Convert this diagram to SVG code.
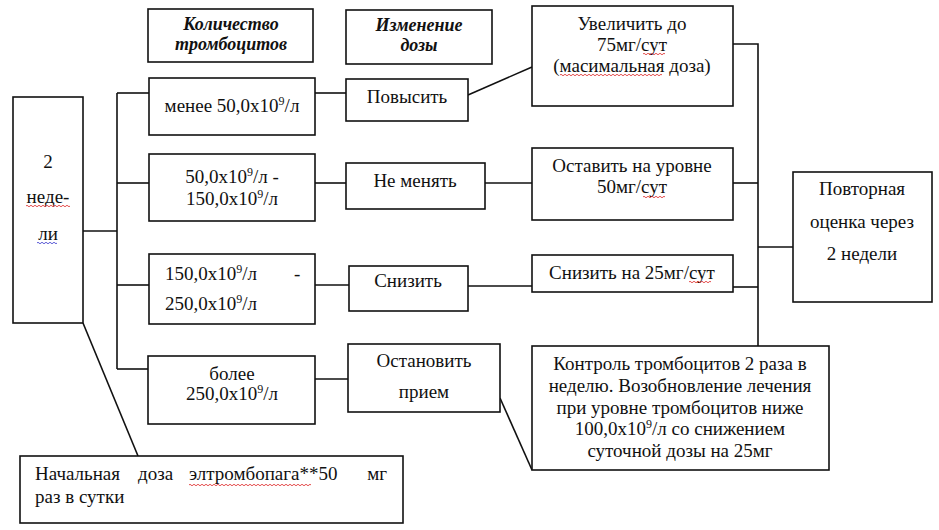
<svg xmlns="http://www.w3.org/2000/svg" width="939" height="530" viewBox="0 0 939 530">
<g id="connectors" stroke="#111" stroke-width="1.6" fill="none">
<line x1="117" y1="93" x2="117" y2="369"/>
<line x1="117" y1="93" x2="149" y2="93"/>
<line x1="83" y1="231" x2="117" y2="231"/>
<line x1="117" y1="183" x2="149" y2="183"/>
<line x1="117" y1="285" x2="149" y2="285"/>
<line x1="117" y1="369" x2="148" y2="369"/>
<line x1="315" y1="93" x2="346" y2="93"/>
<line x1="315" y1="183" x2="346" y2="183"/>
<line x1="315" y1="285" x2="349" y2="285"/>
<line x1="315" y1="379" x2="348" y2="379"/>
<line x1="468" y1="95" x2="532" y2="67"/>
<line x1="485" y1="183" x2="532" y2="183"/>
<line x1="468" y1="286" x2="532" y2="286"/>
<line x1="500" y1="398" x2="532" y2="470"/>
<polyline points="733,44 758,44 758,346"/>
<line x1="733" y1="183" x2="758" y2="183"/>
<line x1="733" y1="287" x2="758" y2="287"/>
<line x1="758" y1="247" x2="793" y2="247"/>
<line x1="83" y1="323" x2="138" y2="456"/>
</g>
<g id="hdr-count"><rect fill="#fff" stroke="#111" stroke-width="1.6" x="148" y="9" width="165" height="53"/><text font-family="Liberation Serif" font-size="18" font-style="italic" font-weight="bold" text-anchor="middle" fill="#111" x="231" y="30">Количество</text><text font-family="Liberation Serif" font-size="18" font-style="italic" font-weight="bold" text-anchor="middle" fill="#111" x="231" y="50">тромбоцитов</text></g>
<g id="hdr-dose"><rect fill="#fff" stroke="#111" stroke-width="1.6" x="346" y="10" width="146" height="54"/><text font-family="Liberation Serif" font-size="18" font-style="italic" font-weight="bold" text-anchor="middle" fill="#111" x="419" y="31">Изменение</text><text font-family="Liberation Serif" font-size="18" font-style="italic" font-weight="bold" text-anchor="middle" fill="#111" x="419" y="51">дозы</text></g>
<g id="left"><rect fill="#fff" stroke="#111" stroke-width="1.6" x="13" y="97" width="70" height="226"/><text font-family="Liberation Serif" font-size="19" text-anchor="middle" fill="#111" x="48" y="168">2</text><text font-family="Liberation Serif" font-size="19" text-anchor="middle" fill="#111" x="48" y="203">неде-</text><text font-family="Liberation Serif" font-size="19" text-anchor="middle" fill="#111" x="48" y="240">ли</text>
<path fill="none" stroke="#d22" stroke-width="0.8" d="M26 206q1 -1.5 2 0t2 0t2 0t2 0t2 0t2 0t2 0t2 0t2 0t2 0t2 0t2 0t2 0t2 0t2 0t2 0t2 0t2 0t2 0t2 0t2 0t2 0"/>
<path fill="none" stroke="#33c" stroke-width="0.8" d="M37 243q1 -1.5 2 0t2 0t2 0t2 0t2 0t2 0t2 0t2 0t2 0t2 0"/></g>
<g id="r1a"><rect fill="#fff" stroke="#111" stroke-width="1.6" x="149" y="78" width="166" height="57"/><text font-family="Liberation Serif" font-size="19" text-anchor="middle" fill="#111" x="232" y="112">менее 50,0x10<tspan font-size="12" dy="-7">9</tspan><tspan dy="7">/л</tspan></text></g>
<g id="r1b"><rect fill="#fff" stroke="#111" stroke-width="1.6" x="346" y="79" width="122" height="42"/><text font-family="Liberation Serif" font-size="19" text-anchor="middle" fill="#111" x="407" y="103">Повысить</text></g>
<g id="r1c"><rect fill="#fff" stroke="#111" stroke-width="1.6" x="532" y="6" width="201" height="100"/><text font-family="Liberation Serif" font-size="19" text-anchor="middle" fill="#111" x="632" y="30">Увеличить до</text><text font-family="Liberation Serif" font-size="19" text-anchor="middle" fill="#111" x="632" y="51">75мг/сут</text><text font-family="Liberation Serif" font-size="19" text-anchor="middle" fill="#111" x="632" y="72">(масимальная доза)</text>
<path fill="none" stroke="#d22" stroke-width="0.8" d="M643 54q1 -1.5 2 0t2 0t2 0t2 0t2 0t2 0t2 0t2 0t2 0t2 0t2 0"/>
<path fill="none" stroke="#d22" stroke-width="0.8" d="M560 75q1 -1.5 2 0t2 0t2 0t2 0t2 0t2 0t2 0t2 0t2 0t2 0t2 0t2 0t2 0t2 0t2 0t2 0t2 0t2 0t2 0t2 0t2 0t2 0t2 0t2 0t2 0t2 0t2 0t2 0t2 0t2 0t2 0t2 0t2 0t2 0t2 0t2 0t2 0t2 0t2 0t2 0t2 0t2 0t2 0t2 0t2 0t2 0t2 0t2 0t2 0t2 0t2 0"/></g>
<g id="r2a"><rect fill="#fff" stroke="#111" stroke-width="1.6" x="149" y="154" width="166" height="67"/><text font-family="Liberation Serif" font-size="19" text-anchor="middle" fill="#111" x="232" y="183">50,0x10<tspan font-size="12" dy="-7">9</tspan><tspan dy="7">/л -</tspan></text><text font-family="Liberation Serif" font-size="19" text-anchor="middle" fill="#111" x="232" y="205">150,0x10<tspan font-size="12" dy="-7">9</tspan><tspan dy="7">/л</tspan></text></g>
<g id="r2b"><rect fill="#fff" stroke="#111" stroke-width="1.6" x="346" y="163" width="139" height="46"/><text font-family="Liberation Serif" font-size="19" text-anchor="middle" fill="#111" x="415" y="187">Не менять</text></g>
<g id="r2c"><rect fill="#fff" stroke="#111" stroke-width="1.6" x="532" y="148" width="201" height="72"/><text font-family="Liberation Serif" font-size="19" text-anchor="middle" fill="#111" x="632" y="172">Оставить на уровне</text><text font-family="Liberation Serif" font-size="19" text-anchor="middle" fill="#111" x="632" y="193">50мг/сут</text>
<path fill="none" stroke="#d22" stroke-width="0.8" d="M643 197q1 -1.5 2 0t2 0t2 0t2 0t2 0t2 0t2 0t2 0t2 0t2 0t2 0"/></g>
<g id="r3a"><rect fill="#fff" stroke="#111" stroke-width="1.6" x="149" y="254" width="166" height="70"/><text font-family="Liberation Serif" font-size="19" fill="#111" x="165" y="280">150,0x10<tspan font-size="12" dy="-7">9</tspan><tspan dy="7">/л</tspan></text><text font-family="Liberation Serif" font-size="19" fill="#111" x="294" y="280">-</text><text font-family="Liberation Serif" font-size="19" fill="#111" x="165" y="310">250,0x10<tspan font-size="12" dy="-7">9</tspan><tspan dy="7">/л</tspan></text></g>
<g id="r3b"><rect fill="#fff" stroke="#111" stroke-width="1.6" x="349" y="266" width="119" height="45"/><text font-family="Liberation Serif" font-size="19" text-anchor="middle" fill="#111" x="408" y="287">Снизить</text></g>
<g id="r3c"><rect fill="#fff" stroke="#111" stroke-width="1.6" x="532" y="255" width="201" height="37"/><text font-family="Liberation Serif" font-size="19" text-anchor="middle" fill="#111" x="632" y="279">Снизить на 25мг/сут</text>
<path fill="none" stroke="#d22" stroke-width="0.8" d="M689 282q1 -1.5 2 0t2 0t2 0t2 0t2 0t2 0t2 0t2 0t2 0t2 0t2 0"/></g>
<g id="r4a"><rect fill="#fff" stroke="#111" stroke-width="1.6" x="148" y="356" width="167" height="68"/><text font-family="Liberation Serif" font-size="19" text-anchor="middle" fill="#111" x="232" y="380">более</text><text font-family="Liberation Serif" font-size="19" text-anchor="middle" fill="#111" x="232" y="400">250,0x10<tspan font-size="12" dy="-7">9</tspan><tspan dy="7">/л</tspan></text></g>
<g id="r4b"><rect fill="#fff" stroke="#111" stroke-width="1.6" x="348" y="344" width="152" height="68"/><text font-family="Liberation Serif" font-size="19" text-anchor="middle" fill="#111" x="424" y="367">Остановить</text><text font-family="Liberation Serif" font-size="19" text-anchor="middle" fill="#111" x="424" y="398">прием</text></g>
<g id="r4c"><rect fill="#fff" stroke="#111" stroke-width="1.6" x="532" y="346" width="297" height="124"/>
<text font-family="Liberation Serif" font-size="19" text-anchor="middle" fill="#111" x="680" y="370">Контроль тромбоцитов 2 раза в</text>
<text font-family="Liberation Serif" font-size="19" text-anchor="middle" fill="#111" x="680" y="392">неделю. Возобновление лечения</text>
<text font-family="Liberation Serif" font-size="19" text-anchor="middle" fill="#111" x="680" y="414">при уровне тромбоцитов ниже</text>
<text font-family="Liberation Serif" font-size="19" text-anchor="middle" fill="#111" x="680" y="435">100,0x10<tspan font-size="12" dy="-7">9</tspan><tspan dy="7">/л со снижением</tspan></text>
<text font-family="Liberation Serif" font-size="19" text-anchor="middle" fill="#111" x="680" y="457">суточной дозы на 25мг</text></g>
<g id="repeat"><rect fill="#fff" stroke="#111" stroke-width="1.6" x="793" y="172" width="139" height="130"/><text font-family="Liberation Serif" font-size="19" text-anchor="middle" fill="#111" x="862" y="195">Повторная</text><text font-family="Liberation Serif" font-size="19" text-anchor="middle" fill="#111" x="862" y="228">оценка через</text><text font-family="Liberation Serif" font-size="19" text-anchor="middle" fill="#111" x="862" y="260">2 недели</text></g>
<g id="start"><rect fill="#fff" stroke="#111" stroke-width="1.6" x="20" y="456" width="383" height="67"/>
<text font-family="Liberation Serif" font-size="19" fill="#111" x="35" y="480">Начальная</text><text font-family="Liberation Serif" font-size="19" fill="#111" x="138" y="480">доза</text><text font-family="Liberation Serif" font-size="19" fill="#111" x="189" y="480">элтромбопага**50</text><text font-family="Liberation Serif" font-size="19" fill="#111" text-anchor="end" x="387" y="480">мг</text>
<text font-family="Liberation Serif" font-size="19" fill="#111" x="35" y="503">раз в сутки</text>
<path fill="none" stroke="#d22" stroke-width="0.8" d="M189 485q1 -1.5 2 0t2 0t2 0t2 0t2 0t2 0t2 0t2 0t2 0t2 0t2 0t2 0t2 0t2 0t2 0t2 0t2 0t2 0t2 0t2 0t2 0t2 0t2 0t2 0t2 0t2 0t2 0t2 0t2 0t2 0t2 0t2 0t2 0t2 0t2 0t2 0t2 0t2 0t2 0t2 0t2 0t2 0t2 0t2 0t2 0t2 0t2 0t2 0t2 0t2 0t2 0t2 0t2 0t2 0t2 0t2 0t2 0t2 0t2 0t2 0t2 0"/></g>
</svg>
